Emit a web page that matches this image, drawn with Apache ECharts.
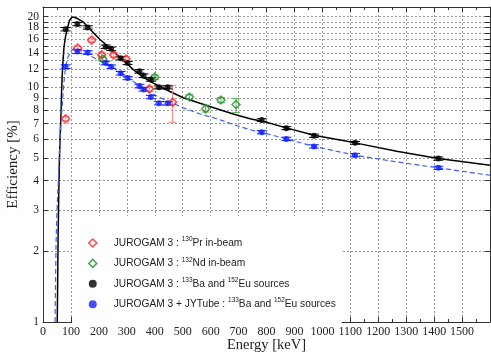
<!DOCTYPE html>
<html>
<head>
	<title>JUROGAM 3 efficiency</title>
	<meta http-equiv="Content-Type" content="text/html; charset=utf-8">
	<script src="https://cdn.jsdelivr.net/npm/echarts@6/dist/echarts.min.js"></script>
	<style>
		* {
			margin: 0;
			padding: 0;
			box-sizing: border-box;
		}
		html, body {
			width: 491px;
			height: 353px;
			overflow: hidden;
			background: #fff;
		}
		#chart {
			width: 491px;
			height: 353px;
		}
	</style>
</head>
<body>
<div id="chart"></div>
<script>
	// 130Pr in-beam (red diamonds)
	var prEnergy = [81, 124, 174, 210, 253, 297, 381, 464];
	var prEff = [7.35, 14.7, 15.9, 13.75, 13.75, 13.2, 9.85, 8.65];
	var prLow = [7.2, 14.4, 15.6, 13.45, 13.45, 12.9, 9.6, 7.1];
	var prHigh = [7.5, 15.0, 16.2, 14.05, 14.05, 13.5, 10.1, 10.2];

	// 132Nd in-beam (green diamonds)
	var ndEnergy = [214, 400, 524, 582, 637, 691];
	var ndEff = [13.2, 11.05, 9.1, 8.1, 8.83, 8.45];
	var ndLow = [12.95, 10.8, 8.9, 7.85, 8.6, 7.8];
	var ndHigh = [13.45, 11.3, 9.3, 8.4, 9.05, 8.95];

	// 133Ba + 152Eu source lines
	var srcEnergy = [81, 123, 160, 224, 244, 278, 303, 345, 360, 386, 415, 446, 783, 871, 970, 1117, 1415];
	var baEff = [17.7, 18.6, 18.0, 14.9, 14.6, 13.3, 12.7, 11.7, 11.2, 10.8, 10.0, 10.0, 7.25, 6.7, 6.22, 5.8, 4.97];
	var baErr = [0.3, 0.3, 0.3, 0.25, 0.25, 0.2, 0.2, 0.2, 0.2, 0.18, 0.15, 0.15, 0.1, 0.1, 0.1, 0.08, 0.08];
	var jyEff = [12.25, 14.2, 14.07, 12.7, 12.25, 11.48, 10.96, 10.13, 9.8, 9.09, 8.55, 8.55, 6.44, 6.03, 5.6, 5.14, 4.54];
	var jyErr = [0.22, 0.25, 0.25, 0.22, 0.2, 0.2, 0.18, 0.18, 0.16, 0.15, 0.14, 0.14, 0.1, 0.1, 0.09, 0.08, 0.07];

	// fitted efficiency curves
	var fitBlackE = [51, 52.5, 53.7, 55.5, 57.3, 59, 61, 64.5, 67, 70, 75, 80, 85, 95, 103, 112, 125, 144, 170, 204, 235, 264, 295, 323, 353, 383, 443, 502, 562, 622, 681, 741, 800, 871, 970, 1117, 1266, 1415, 1600];
	var fitBlackV = [1.0, 1.5, 2.1, 3.0, 4.0, 5.0, 6.0, 7.8, 10.0, 12.1, 14.8, 16.3, 17.4, 19.3, 19.9, 19.9, 19.6, 19.0, 17.6, 16.0, 14.85, 13.8, 12.8, 11.9, 11.2, 10.6, 9.74, 9.03, 8.55, 8.11, 7.7, 7.35, 7.1, 6.72, 6.25, 5.8, 5.34, 4.97, 4.66];
	var fitBlueE = [43, 45, 46.5, 50, 55, 58, 61, 64, 67, 72, 77, 82, 90, 100, 112, 125, 144, 170, 204, 235, 264, 295, 323, 353, 383, 443, 502, 562, 622, 681, 741, 800, 871, 970, 1117, 1266, 1415, 1600];
	var fitBlueV = [1.0, 1.5, 2.1, 3.0, 4.0, 5.0, 6.0, 7.0, 7.8, 9.5, 11.2, 12.4, 13.5, 14.3, 14.7, 14.6, 14.1, 13.6, 12.95, 12.4, 11.86, 11.2, 10.6, 10.05, 9.49, 8.76, 8.18, 7.7, 7.35, 6.95, 6.6, 6.35, 6.03, 5.6, 5.14, 4.81, 4.54, 4.22];

	// axis ticks (top label kept on its own axis so it is not hidden as overlapping)
	var yTickValues = [1, 2, 3, 4, 5, 6, 7, 8, 9, 10, 11, 12, 13, 14, 15, 16, 17, 18, 19, 20];
	var yLabelValues = [1, 2, 3, 4, 5, 6, 7, 8, 9, 10, 12, 14, 16, 18];
	var yTopLabel = [20];

	var legendText = {
		'pr': 'JUROGAM 3 : {sup|130}Pr in-beam',
		'nd': 'JUROGAM 3 : {sup|132}Nd in-beam',
		'ba': 'JUROGAM 3 : {sup|133}Ba and {sup|152}Eu sources',
		'jy': 'JUROGAM 3 + JYTube : {sup|133}Ba and {sup|152}Eu sources'
	};

	function zip(a, b) {
		var out = [];
		for (var i = 0; i < a.length; i++) out.push([a[i], b[i]]);
		return out;
	}

	function errorBars(name, xs, lo, hi, color, cap) {
		var rows = [];
		for (var i = 0; i < xs.length; i++) rows.push([xs[i], lo[i], hi[i]]);
		return {
			type: 'custom',
			name: name,
			data: rows,
			encode: { x: 0, y: [1, 2] },
			silent: true,
			z: 3,
			renderItem: function (params, api) {
				var x = api.value(0);
				var top = api.coord([x, api.value(2)]);
				var bot = api.coord([x, api.value(1)]);
				var st = { stroke: color, lineWidth: 1 };
				return {
					type: 'group',
					children: [
						{ type: 'line', shape: { x1: top[0], y1: top[1], x2: bot[0], y2: bot[1] }, style: st },
						{ type: 'line', shape: { x1: top[0] - cap, y1: top[1], x2: top[0] + cap, y2: top[1] }, style: st },
						{ type: 'line', shape: { x1: bot[0] - cap, y1: bot[1], x2: bot[0] + cap, y2: bot[1] }, style: st }
					]
				};
			}
		};
	}

	function withErr(vals, errs, sign) {
		var out = [];
		for (var i = 0; i < vals.length; i++) out.push(vals[i] + sign * errs[i]);
		return out;
	}

	var frame = { show: true, onZero: false, lineStyle: { color: '#333', width: 1 } };
	var tickStyle = { color: '#333', width: 1 };
	var serif = 'Liberation Serif';
	var yLabelStyle = {
		margin: 4, fontFamily: serif, fontSize: 11.5, color: '#222',
		formatter: function (v) { return String(Math.round(v)); }
	};

	var chart = echarts.init(document.getElementById('chart'), null, { renderer: 'canvas' });

	chart.setOption({
		backgroundColor: '#fff',
		animation: false,
		grid: { left: 43, right: 1, top: 7, bottom: 31, outerBoundsMode: 'none', containLabel: false },
		legend: {
			orient: 'vertical',
			left: 72,
			top: 216,
			padding: [20, 6, 12, 16],
			itemGap: 6.4,
			itemWidth: 8,
			itemHeight: 8,
			backgroundColor: '#fff',
			selectedMode: false,
			textStyle: {
				fontFamily: 'Liberation Sans',
				fontSize: 10.2,
				color: '#222',
				lineHeight: 14,
				padding: [0, 0, 0, 12],
				rich: {
					sup: { fontFamily: 'Liberation Sans', fontSize: 6.5, color: '#222', verticalAlign: 'top', lineHeight: 14 }
				}
			},
			formatter: function (n) { return legendText[n]; },
			data: [
				{ name: 'pr', icon: 'diamond', itemStyle: { color: 'rgba(0,0,0,0)', borderColor: '#ff1a1a', borderWidth: 1.5 } },
				{ name: 'nd', icon: 'diamond', itemStyle: { color: 'rgba(0,0,0,0)', borderColor: '#1f8f1f', borderWidth: 1.5 } },
				{ name: 'ba', icon: 'circle', itemStyle: { color: '#000', borderWidth: 0 } },
				{ name: 'jy', icon: 'circle', itemStyle: { color: '#1020ff', borderWidth: 0 } }
			]
		},
		xAxis: [{
			type: 'value', min: 0, max: 1600, interval: 100, position: 'bottom',
			axisLine: frame,
			axisTick: { show: true, inside: true, length: 5, lineStyle: tickStyle },
			minorTick: { show: true, splitNumber: 2, length: 3, lineStyle: tickStyle },
			axisLabel: {
				margin: 4, fontFamily: serif, fontSize: 12, color: '#222',
				formatter: function (v) { return v >= 1600 ? '' : String(v); }
			},
			splitLine: { show: true, lineStyle: { color: '#9a9a9a', width: 1, type: [2, 2] } },
			minorSplitLine: { show: false },
			name: 'Energy [keV]', nameLocation: 'middle', nameGap: 16, nameMoveOverlap: false,
			nameTextStyle: { fontFamily: serif, fontSize: 14.5, color: '#222' }
		}, {
			type: 'value', min: 0, max: 1600, interval: 100, position: 'top',
			axisLine: frame,
			axisTick: { show: true, inside: true, length: 5, lineStyle: tickStyle },
			minorTick: { show: true, splitNumber: 2, length: 3, lineStyle: tickStyle },
			axisLabel: { show: false },
			splitLine: { show: false }
		}],
		yAxis: [{
			type: 'log', logBase: 10, min: 1, max: 22, position: 'left',
			axisLine: frame,
			axisTick: { show: true, inside: true, length: 5, lineStyle: tickStyle, customValues: yTickValues },
			axisLabel: Object.assign({ customValues: yLabelValues }, yLabelStyle),
			splitLine: { show: true, lineStyle: { color: '#9a9a9a', width: 1, type: [2, 2] } },
			name: 'Efficiency [%]', nameLocation: 'middle', nameGap: 22, nameMoveOverlap: false,
			nameTextStyle: { fontFamily: serif, fontSize: 15, color: '#222' }
		}, {
			type: 'log', logBase: 10, min: 1, max: 22, position: 'right',
			axisLine: frame,
			axisTick: { show: true, inside: true, length: 5, lineStyle: tickStyle, customValues: yTickValues },
			axisLabel: { show: false },
			splitLine: { show: false }
		}, {
			type: 'log', logBase: 10, min: 1, max: 22, position: 'left', offset: 0,
			axisLine: { show: false },
			axisTick: { show: false },
			axisLabel: Object.assign({ customValues: yTopLabel, showMaxLabel: true }, yLabelStyle),
			splitLine: { show: false }
		}],
		series: [
			{
				type: 'line', name: 'fitBlack', data: zip(fitBlackE, fitBlackV),
				showSymbol: false, symbol: 'none', silent: true, z: 2,
				lineStyle: { color: '#000', width: 1.5 }
			},
			{
				type: 'line', name: 'fitBlue', data: zip(fitBlueE, fitBlueV),
				showSymbol: false, symbol: 'none', silent: true, z: 2,
				lineStyle: { color: '#3b5cff', width: 1.2, type: [5, 3] }
			},
			errorBars('prErr', prEnergy, prLow, prHigh, '#ff8080', 4),
			errorBars('ndErr', ndEnergy, ndLow, ndHigh, '#55b055', 4),
			errorBars('baErr', srcEnergy, withErr(baEff, baErr, -1), withErr(baEff, baErr, 1), '#000', 5),
			errorBars('jyErr', srcEnergy, withErr(jyEff, jyErr, -1), withErr(jyEff, jyErr, 1), '#1020ff', 5),
			{
				type: 'scatter', name: 'pr', data: zip(prEnergy, prEff), symbol: 'diamond', symbolSize: 8, z: 4,
				itemStyle: { color: 'rgba(0,0,0,0)', borderColor: '#ff1a1a', borderWidth: 1.5 }
			},
			{
				type: 'scatter', name: 'nd', data: zip(ndEnergy, ndEff), symbol: 'diamond', symbolSize: 8, z: 4,
				itemStyle: { color: 'rgba(0,0,0,0)', borderColor: '#1f8f1f', borderWidth: 1.5 }
			},
			{
				type: 'scatter', name: 'ba', data: zip(srcEnergy, baEff), symbol: 'circle', symbolSize: 6, z: 4,
				itemStyle: { color: '#000' }
			},
			{
				type: 'scatter', name: 'jy', data: zip(srcEnergy, jyEff), symbol: 'circle', symbolSize: 6, z: 4,
				itemStyle: { color: '#1020ff' }
			}
		]
	});
</script>
</body>
</html>
